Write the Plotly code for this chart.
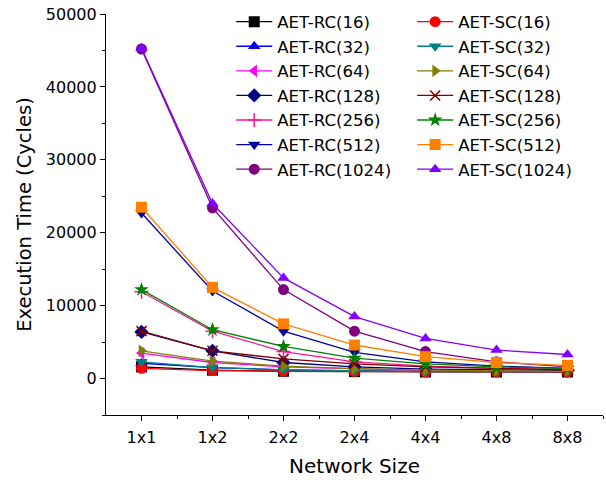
import plotly.graph_objects as go

# Network sizes on the x axis
network_sizes = ["1x1", "1x2", "2x2", "2x4", "4x4", "4x8", "8x8"]

# Execution time (cycles) per configuration
aet_rc_16 = [1600, 1150, 1000, 950, 900, 900, 900]
aet_sc_16 = [1400, 1100, 1000, 950, 900, 900, 900]
aet_rc_32 = [2100, 1500, 1200, 1050, 950, 950, 950]
aet_sc_32 = [2300, 1500, 1200, 1050, 950, 950, 950]
aet_rc_64 = [3500, 2200, 1600, 1300, 1100, 1000, 1000]
aet_sc_64 = [3800, 2400, 1700, 1350, 1150, 1050, 1000]
aet_rc_128 = [6400, 3800, 2200, 1600, 1300, 1150, 1100]
aet_sc_128 = [6500, 3800, 2700, 2000, 1600, 1350, 1200]
aet_rc_256 = [11900, 6500, 3700, 2300, 1700, 1400, 1250]
aet_sc_256 = [12200, 6700, 4400, 2800, 2000, 1600, 1400]
aet_rc_512 = [22700, 12000, 6500, 3600, 2300, 1700, 1400]
aet_sc_512 = [23500, 12500, 7500, 4600, 3000, 2200, 1800]
aet_rc_1024 = [45200, 23400, 12200, 6500, 3700, 2300, 1600]
aet_sc_1024 = [45300, 24000, 13800, 8500, 5500, 3900, 3300]

FONT = "DejaVu Sans"

# (name, values, colour, symbol, legend)
series = [
    ("AET-RC(16)", aet_rc_16, "#000000", "square", "legend"),
    ("AET-RC(32)", aet_rc_32, "#0000FF", "triangle-up", "legend"),
    ("AET-RC(64)", aet_rc_64, "#FF00FF", "triangle-left", "legend"),
    ("AET-RC(128)", aet_rc_128, "#000080", "diamond", "legend"),
    ("AET-RC(256)", aet_rc_256, "#FF1493", "cross-thin", "legend"),
    ("AET-RC(512)", aet_rc_512, "#0000A0", "triangle-down", "legend"),
    ("AET-RC(1024)", aet_rc_1024, "#800080", "circle", "legend"),
    ("AET-SC(16)", aet_sc_16, "#FF0000", "circle", "legend2"),
    ("AET-SC(32)", aet_sc_32, "#008080", "triangle-down", "legend2"),
    ("AET-SC(64)", aet_sc_64, "#808000", "triangle-right", "legend2"),
    ("AET-SC(128)", aet_sc_128, "#800000", "x-thin", "legend2"),
    ("AET-SC(256)", aet_sc_256, "#008000", "star", "legend2"),
    ("AET-SC(512)", aet_sc_512, "#FF8000", "square", "legend2"),
    ("AET-SC(1024)", aet_sc_1024, "#8000FF", "triangle-up", "legend2"),
]

x_pos = list(range(len(network_sizes)))
minor_x = [i + 0.5 for i in x_pos]

fig = go.Figure()
for name, vals, color, symbol, leg in series:
    thin = symbol.endswith("-thin")
    fig.add_trace(go.Scatter(
        x=x_pos, y=vals, name=name, mode="lines+markers",
        line=dict(color=color, width=1.3),
        marker=dict(symbol=symbol, size=11 if not thin else 10, color=color,
                    line=dict(color=color, width=1.5 if thin else 0)),
        legend=leg,
    ))

legend_common = dict(
    font=dict(family=FONT, size=16.6, color="#000000"),
    bgcolor="rgba(0,0,0,0)", borderwidth=0,
    yanchor="top", xanchor="left",
    tracegroupgap=0, itemwidth=36,
)

fig.update_layout(
    width=606, height=480,
    margin=dict(l=106, r=3, t=14, b=65),
    paper_bgcolor="white", plot_bgcolor="white",
    font=dict(family=FONT, size=16, color="#000000"),
    legend=dict(x=0.252, y=1.024, **legend_common),
    legend2=dict(x=0.616, y=1.024, **legend_common),
    xaxis=dict(
        range=[-0.5, 6.5],
        tickmode="array", tickvals=x_pos, ticktext=network_sizes,
        ticks="outside", ticklen=5, tickwidth=1, tickcolor="#000000",
        ticklabelstandoff=3,
        minor=dict(tickmode="array", tickvals=minor_x, ticks="outside",
                   ticklen=3, tickcolor="#000000"),
        showline=True, linecolor="#000000", linewidth=1.2,
        showgrid=False, zeroline=False,
        tickfont=dict(family=FONT, size=16),
        title=dict(text="Network Size", font=dict(family=FONT, size=20), standoff=12),
    ),
    yaxis=dict(
        range=[-5000, 50000],
        tickmode="linear", tick0=0, dtick=10000, tickformat="d",
        ticks="outside", ticklen=5, tickwidth=1, tickcolor="#000000",
        minor=dict(dtick=5000, ticks="outside", ticklen=3, tickcolor="#000000"),
        showline=True, linecolor="#000000", linewidth=1.2,
        showgrid=False, zeroline=False,
        tickfont=dict(family=FONT, size=16),
        title=dict(text="Execution Time (Cycles)", font=dict(family=FONT, size=19.5), standoff=8),
    ),
)

fig.write_html("out.html")
